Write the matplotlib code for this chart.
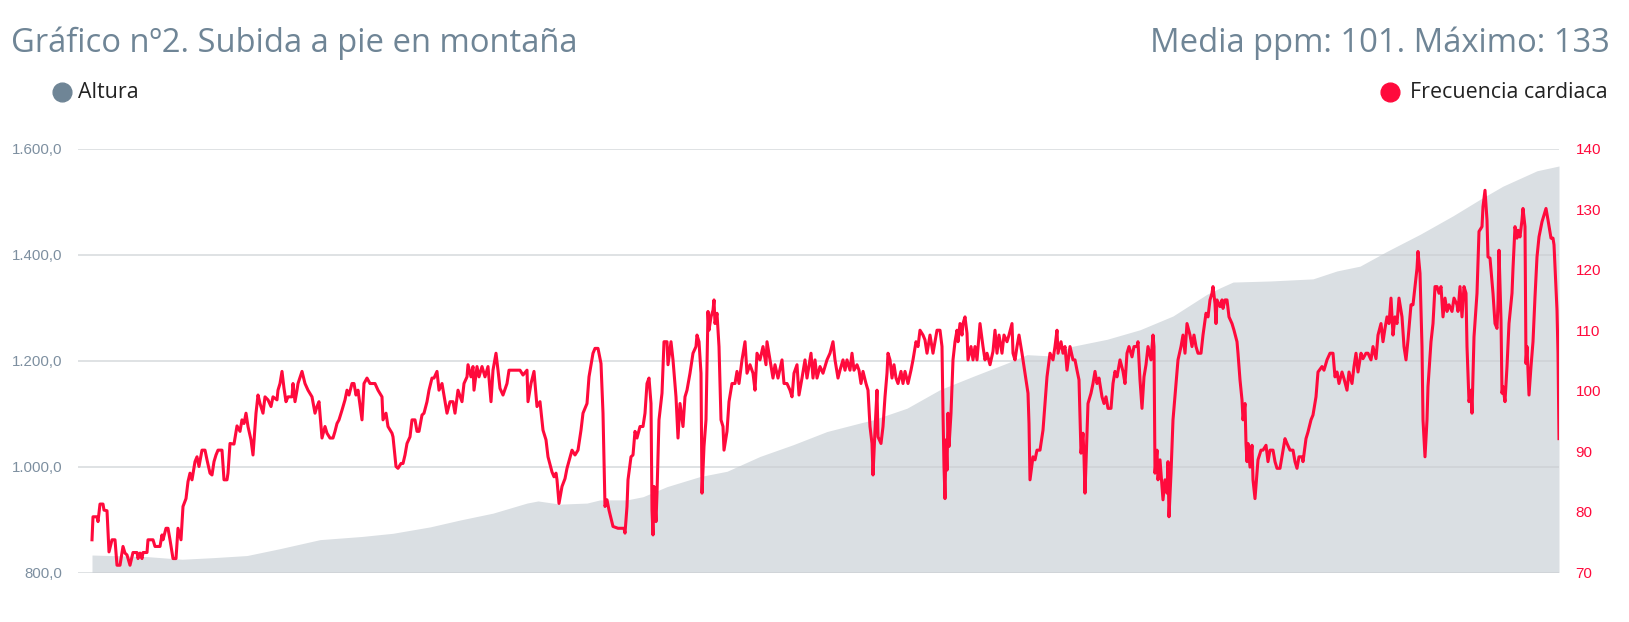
import matplotlib
matplotlib.use('Agg')
import matplotlib.pyplot as plt
from matplotlib.lines import Line2D
from matplotlib.ticker import FuncFormatter

# Altura (m) a lo largo del recorrido (indice de muestra)
alt_x = [0, 55, 90, 121, 155, 188, 228, 270, 301, 338, 368, 401, 435, 446, 468,
         495, 508, 535, 551, 575, 608, 635, 668, 701, 735, 768, 781, 815, 848,
         881, 915, 935, 955, 981, 1015, 1048, 1081, 1115, 1128, 1141, 1178, 1221,
         1245, 1268, 1295, 1328, 1361, 1388, 1411, 1445, 1467]
altura = [833, 830, 825, 828, 832, 845, 862, 868, 874, 886, 899, 912, 931, 935, 929,
          931, 937, 937, 943, 962, 981, 991, 1019, 1041, 1066, 1082, 1088, 1110, 1145,
          1170, 1195, 1211, 1209, 1227, 1240, 1258, 1284, 1325, 1337, 1348, 1350, 1354,
          1369, 1378, 1406, 1438, 1473, 1504, 1529, 1558, 1567]

# Frecuencia cardiaca (ppm)
fc_x = [0, 1, 5, 6, 8, 11, 12, 15, 17, 20, 23, 25, 28, 31, 33, 35, 38, 41, 45, 46,
        48, 50, 51, 55, 56, 61, 63, 68, 70, 71, 74, 76, 78, 81, 84, 86, 89, 91, 94, 96,
        98, 100, 103, 105, 107, 110, 113, 115, 118, 120, 122, 124, 126, 130, 132, 135,
        136, 138, 142, 145, 148, 150, 152, 154, 156, 159, 161, 164, 166, 168, 171, 173,
        176, 179, 181, 185, 186, 188, 190, 192, 194, 196, 200, 201, 203, 205, 206, 210,
        213, 216, 220, 223, 225, 227, 230, 233, 235, 238, 241, 243, 245, 247, 250, 253,
        255, 257, 260, 262, 264, 266, 270, 272, 275, 278, 283, 286, 290, 291, 294, 296,
        300, 301, 304, 306, 309, 311, 313, 315, 318, 320, 323, 325, 327, 330, 332, 335,
        337, 340, 342, 345, 347, 350, 353, 355, 358, 361, 363, 366, 370, 372, 375, 376,
        379, 381, 382, 385,
        387, 390, 393, 396, 399, 401, 404, 406, 408, 411, 415, 417, 423, 428, 431, 435,
        436, 439, 442, 445, 448, 451, 454, 456, 460, 462, 464, 465, 467, 470, 473, 475,
        480, 483, 486, 489, 491, 495, 497, 501, 503, 506, 509, 511, 513, 515, 517, 521,
        526, 532, 533, 535, 536, 539, 541, 543, 545, 548, 551, 553, 555, 557, 559, 560,
        561, 562, 564, 565, 567, 570, 572, 575, 576, 579, 581, 584, 586, 588, 591, 593,
        595, 598, 601, 604, 605, 607, 609, 610, 612, 614, 615, 616, 617, 619, 621, 622,
        623, 625, 627, 629, 631, 632, 635, 637, 640, 643, 645, 647, 650, 653, 655, 658,
        661, 663, 665, 668, 671, 674, 675, 678, 681, 683, 686, 690, 692, 695, 698, 700,
        702, 705, 707, 710, 713, 715, 719, 721, 723, 725, 728, 731, 735, 738, 741, 743,
        746,
        748, 751, 753, 755, 758, 760, 762, 765, 767, 769, 771, 774, 776, 778, 780, 781,
        783, 785, 786, 789, 791, 793, 795, 796, 798, 800, 802, 804, 806, 809, 811, 813,
        816, 819, 821, 824, 826, 828, 831, 833, 835, 838, 841, 843, 845, 848, 850, 851,
        852, 853, 854, 855, 856, 857, 859, 861, 863, 865, 866, 868, 870, 871, 873, 875,
        876, 879, 881, 883, 885, 888, 891, 893, 895, 898, 901, 903, 905, 907, 910, 912,
        915, 917, 920, 921, 923, 925, 927, 930, 932, 934, 936, 937, 938, 941, 943, 945,
        948, 951, 953, 955, 958, 961, 963, 965, 966, 969, 971, 973, 975, 978, 981, 983,
        985, 987, 989, 991, 992, 993, 995, 996, 999, 1001, 1003, 1005, 1007, 1010, 1012,
        1014, 1016, 1019, 1021, 1023, 1025, 1028, 1031, 1033, 1035, 1037, 1040, 1042,
        1045, 1046, 1048, 1050, 1052, 1054, 1056, 1059, 1061, 1062, 1063, 1065, 1066,
        1068, 1070, 1071, 1073, 1075, 1076, 1077, 1079, 1080, 1081, 1084, 1086, 1089,
        1091, 1093, 1095, 1098, 1100, 1102, 1104, 1106, 1109, 1111, 1114, 1116, 1118,
        1120, 1121, 1123, 1124, 1125,
        1128, 1130, 1131, 1133, 1135, 1137, 1140, 1142, 1145, 1146, 1148, 1150, 1151,
        1153, 1154, 1155, 1156, 1158, 1160, 1161, 1163, 1165, 1166, 1169, 1171, 1174,
        1176, 1178, 1181, 1183, 1185, 1188, 1191, 1193, 1195, 1198, 1201, 1203, 1205,
        1207, 1210, 1211, 1214, 1216, 1219, 1221, 1224, 1226, 1230, 1232, 1235, 1238,
        1241, 1243, 1245, 1247, 1250, 1252, 1255, 1257, 1260, 1262, 1264, 1266, 1269,
        1271, 1274, 1276, 1279, 1281, 1284, 1286, 1289, 1291, 1293, 1295, 1297, 1299,
        1301, 1303, 1305, 1307, 1310, 1312, 1314, 1316, 1319, 1321, 1323, 1325, 1326,
        1328, 1330, 1331, 1333, 1335, 1336, 1339, 1341, 1343, 1345, 1347, 1349, 1351,
        1353, 1355, 1357, 1360, 1362, 1365, 1366, 1368, 1370, 1372, 1374, 1375, 1377,
        1379, 1380, 1382, 1385, 1387, 1390, 1391, 1393, 1395, 1396, 1398, 1401, 1403,
        1405, 1406, 1407, 1409, 1410, 1411, 1413, 1415, 1417, 1420, 1421, 1423, 1425,
        1426, 1428, 1430, 1431, 1433, 1434, 1435, 1437, 1439, 1441, 1443, 1445, 1447,
        1450, 1452, 1454, 1456, 1459, 1461, 1462, 1463, 1465, 1466, 1467]
fc = [75.4, 79.2, 79.2, 78.4, 81.3, 81.3, 80.3, 80.2, 73.4, 75.4, 75.4, 71.2, 71.2,
      74.3, 73.2, 72.9, 71.2, 73.3, 73.3, 72.3, 73.2, 72.3, 73.3, 73.3, 75.4, 75.4,
      74.3, 74.3, 76.2, 75.4, 77.3, 77.3, 75.4, 72.3, 72.3, 77.3, 75.4, 80.9, 82.2,
      85.0, 86.4, 85.3, 88.3, 89.1, 87.5, 90.2, 90.2, 88.6, 86.4, 86.1, 88.3, 89.4,
      90.2, 90.2, 85.3, 85.3, 86.4, 91.3, 91.2, 94.2, 93.3, 95.2, 94.6, 96.3, 94.1,
      91.9, 89.4, 96.3, 99.3, 97.9, 96.3, 99.0, 98.5, 97.4, 99.0, 98.5, 100.1, 101.2,
      103.2, 100.4, 98.2, 99.0, 99.0, 101.2, 98.2, 100.1, 101.2, 103.2, 101.2, 100.1,
      99.0, 96.3, 97.4, 98.2, 92.2, 94.1, 93.0, 92.2, 92.2, 93.3, 94.6, 95.2, 96.8,
      98.5, 100.1, 99.3, 101.2, 101.2, 99.3, 100.1, 95.2, 101.2, 102.1, 101.2, 101.2,
      100.1, 99.0, 95.2, 96.3, 94.1, 93.0, 92.4, 87.5, 87.2, 88.0, 88.0, 89.4, 91.3,
      92.4, 95.2, 95.2, 93.3, 93.3, 96.0, 96.3, 98.2, 100.1, 102.1, 102.1, 103.2,
      100.1, 101.2, 98.2, 96.3, 98.2, 98.2, 96.3, 100.1, 98.2, 101.2, 102.3, 104.3,
      102.3, 104.0, 100.1, 104.0,
      102.3, 104.0, 102.3, 104.0, 98.2, 103.4, 106.2, 103.4, 100.4, 99.3, 101.2, 103.4,
      103.4, 103.4, 102.6, 103.4, 98.2, 101.2, 103.2, 97.4, 98.2, 93.5, 91.9, 89.1,
      86.6, 85.8, 86.4, 85.3, 81.4, 84.2, 85.5, 87.2, 90.2, 89.4, 90.2, 93.5, 96.3,
      97.9, 102.3, 106.2, 107.0, 107.0, 104.5, 96.3, 80.9, 82.0, 80.3, 77.6, 77.3,
      77.3, 76.5, 80.9, 85.3, 89.1, 89.4, 93.3, 92.2, 94.1, 94.1, 96.3, 101.2, 102.1,
      97.9, 80.3, 76.2, 84.2, 78.4, 83.1, 95.2, 99.6, 108.1, 108.1, 104.3, 108.1,
      105.1, 99.0, 92.2, 97.9, 94.1, 99.0, 100.1, 102.9, 106.2, 107.3, 109.2, 108.1,
      102.9, 83.1, 90.8, 95.2, 104.0, 113.1, 110.0, 112.2, 113.3, 115.0, 111.1, 112.8,
      107.3, 95.2, 94.1, 90.2, 93.3, 98.2, 101.2, 101.2, 103.2, 101.2, 105.1, 108.1,
      102.9, 104.3, 102.9, 100.1, 106.2, 105.1, 107.3, 104.3, 108.1, 105.1, 102.1,
      104.3, 102.1, 105.1, 101.2, 101.2, 100.1, 99.0, 102.9, 104.3, 99.3, 102.1, 105.1,
      102.1, 106.2, 102.1, 105.1, 102.1, 104.0, 102.9, 105.1, 106.2, 108.1, 105.1,
      102.1,
      103.4, 105.1, 103.4, 105.1, 103.4, 106.2, 103.4, 104.3, 103.4, 101.2, 103.2,
      101.2, 100.1, 94.1, 91.3, 86.1, 93.5, 100.1, 92.4, 91.3, 94.1, 99.0, 102.9, 106.2,
      105.1, 102.1, 104.3, 102.1, 101.2, 103.2, 101.2, 103.2, 101.2, 103.4, 105.1,
      108.1, 107.3, 110.0, 109.2, 108.4, 106.2, 109.2, 106.2, 108.1, 110.0, 110.0,
      107.3, 96.3, 87.5, 82.2, 91.9, 86.9, 96.3, 90.8, 96.3, 105.1, 108.1, 110.0, 108.1,
      111.1, 109.2, 111.1, 112.2, 109.5, 105.1, 107.3, 105.1, 107.3, 105.1, 111.1,
      107.3, 105.1, 106.2, 104.3, 106.5, 110.0, 106.2, 109.2, 106.2, 109.2, 108.1,
      109.2, 111.1, 106.2, 105.1, 107.3, 109.2, 106.2, 104.0, 101.8, 99.6, 94.6, 85.3,
      89.1, 88.6, 90.2, 90.2, 93.5, 97.9, 102.3, 106.2, 105.1, 107.3, 110.0, 106.2,
      108.1, 106.2, 107.3, 103.4, 107.3, 105.1, 105.1, 103.4, 101.8, 89.7, 93.0, 89.1,
      83.1, 93.0, 97.9, 99.6, 101.2, 103.2, 101.2, 102.1, 99.0, 97.9, 99.0, 97.1, 97.1,
      101.2, 103.2, 102.3, 105.1, 103.2, 101.2, 106.2, 107.3, 105.6, 107.3, 107.3,
      108.1, 101.8, 97.1, 102.3, 104.3, 107.3, 105.1, 109.2, 107.3, 86.4, 90.2, 85.3,
      88.6, 84.2, 82.0, 85.3, 83.1, 88.3, 79.2, 86.4, 90.8, 95.2, 101.2, 105.1, 107.3,
      109.2, 106.2, 111.1, 109.2, 107.3, 109.2, 107.3, 106.2, 106.2, 109.2, 112.8,
      112.2, 115.0, 116.1, 117.2, 114.4, 111.1, 115.0,
      113.9, 115.0, 113.6, 115.0, 115.0, 112.2, 111.1, 110.0, 108.1, 106.2, 101.8, 98.5,
      95.2, 97.9, 91.3, 88.3, 91.3, 87.4, 91.0, 85.3, 82.2, 86.4, 88.6, 90.2, 90.2,
      91.0, 88.3, 90.2, 90.2, 88.3, 87.2, 87.2, 90.2, 92.1, 91.3, 90.2, 90.2, 88.3,
      87.2, 89.1, 89.1, 88.3, 92.1, 93.2, 95.2, 96.0, 99.0, 103.1, 104.0, 103.4, 105.1,
      106.2, 106.2, 102.3, 103.1, 101.2, 103.1, 102.0, 100.1, 103.1, 101.2, 104.0,
      106.2, 103.1, 106.2, 105.3, 106.2, 106.2, 105.1, 107.3, 105.3, 109.2, 111.1,
      108.1, 110.3, 112.2, 111.1, 115.3, 109.2, 112.2, 111.1, 115.3, 112.2, 107.3,
      105.1, 108.4, 114.2, 114.2, 117.2, 120.2, 123.0, 119.4, 107.3, 95.2, 89.1, 95.2,
      100.7, 108.1, 111.1, 117.2, 117.2, 116.1, 117.2, 112.2, 115.3, 113.1, 114.2,
      113.1, 115.3, 114.2, 113.1, 117.2, 112.2, 117.2, 116.1, 107.3, 98.2, 100.1, 96.3,
      108.9, 116.1, 126.3, 127.1, 130.4, 133.1, 128.2, 122.1, 121.9, 116.1, 111.1,
      110.3, 114.4, 123.2, 111.7, 99.6, 100.7, 98.2, 104.0, 111.1, 116.1, 120.2, 127.1,
      125.2, 126.5, 125.4, 128.2, 130.1, 127.1, 104.5, 107.3, 99.3, 104.0, 108.1, 115.5,
      122.1, 125.4, 127.9, 129.0, 130.1, 128.2, 125.2, 125.2, 124.1, 120.5, 113.3,
      106.2, 92.1]

alt_ticks = [800, 1000, 1200, 1400, 1600]
fc_ticks = [70, 80, 90, 100, 110, 120, 130, 140]

titulo = 'Gráfico nº2. Subida a pie en montaña'
resumen = 'Media ppm: 101. Máximo: 133'

GRIS = '#6f8596'
AREA = '#dadfe3'
ROJO = '#ff0a3c'

plt.rcParams['font.family'] = ['Open Sans', 'DejaVu Sans']

fig = plt.figure(figsize=(16.29, 6.22), dpi=100)
ax = fig.add_axes([78 / 1629, 49.5 / 622, (1559 - 78) / 1629, 424 / 622])
ax2 = ax.twinx()

ax.fill_between(alt_x, 800, altura, color=AREA, linewidth=0, zorder=1)
for t in alt_ticks:
    ax.axhline(t, color='#c9cdd1', linewidth=1.1, alpha=0.75, zorder=2)
ax.set_xlim(-14, 1467)
ax.set_ylim(800, 1600)
ax.set_yticks(alt_ticks)
ax.yaxis.set_major_formatter(FuncFormatter(
    lambda v, p: f'{v:,.1f}'.replace(',', 'X').replace('.', ',').replace('X', '.')))
ax.tick_params(axis='y', length=0, pad=11, labelsize=10.8, labelcolor='#7d8fa0')
for lab in ax.get_yticklabels():
    lab.set_family('Liberation Sans')
ax.set_xticks([])

ax2.plot(fc_x, fc, color=ROJO, linewidth=2.2, zorder=3)
ax2.set_ylim(70, 140)
ax2.set_yticks(fc_ticks)
ax2.tick_params(axis='y', length=0, pad=12, labelsize=11, labelcolor=ROJO)
for lab in ax2.get_yticklabels():
    lab.set_family('Liberation Sans')

for a in (ax, ax2):
    for s in a.spines.values():
        s.set_visible(False)

fig.text(11 / 1629, 1 - 52 / 622, titulo, fontsize=23.6, color=GRIS, va='baseline')
fig.text(1610 / 1629, 1 - 52 / 622, resumen, fontsize=23.6, color=GRIS,
         va='baseline', ha='right')

# leyenda
fig.add_artist(Line2D([62 / 1629], [1 - 92 / 622], marker='o', markersize=13.5,
                      color=GRIS, transform=fig.transFigure))
fig.text(78 / 1629, 1 - 92 / 622, 'Altura', fontsize=15.4, color='#222222', va='center')
fig.add_artist(Line2D([1390 / 1629], [1 - 92 / 622], marker='o', markersize=13.5,
                      color=ROJO, transform=fig.transFigure))
fig.text(1608 / 1629, 1 - 92 / 622, 'Frecuencia cardiaca', fontsize=15.4,
         color='#222222', va='center', ha='right')

fig.savefig('out.png', dpi=100)
